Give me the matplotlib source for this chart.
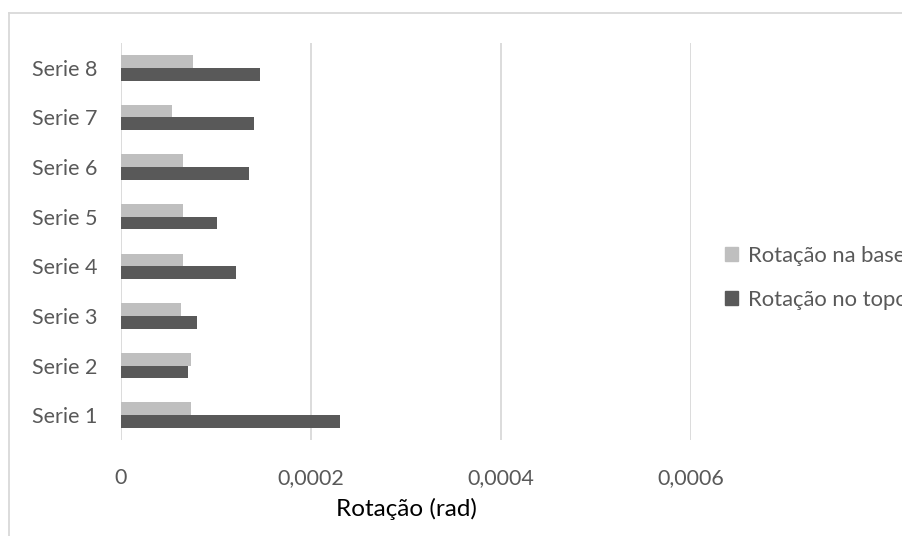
import matplotlib
matplotlib.use('Agg')
import matplotlib.pyplot as plt
import numpy as np
from matplotlib.lines import Line2D
from matplotlib.patches import Patch

# dados
series = ['Serie 1', 'Serie 2', 'Serie 3', 'Serie 4', 'Serie 5', 'Serie 6', 'Serie 7', 'Serie 8']
rot_base = [7.36e-5, 7.36e-5, 6.34e-5, 6.52e-5, 6.52e-5, 6.52e-5, 5.32e-5, 7.53e-5]
rot_topo = [2.307e-4, 7.0e-5, 8.03e-5, 1.208e-4, 1.007e-4, 1.345e-4, 1.395e-4, 1.461e-4]
xticks = [0, 0.0002, 0.0004, 0.0006]
xtick_labels = ['0', '0,0002', '0,0004', '0,0006']

plt.rcParams['font.family'] = ['Lato', 'DejaVu Sans']

fig = plt.figure(figsize=(9.02, 5.36), dpi=100)
ax = fig.add_axes([121/902, 1-440/536, 570/902, 397/536])

y = np.arange(len(series))
h = 0.256
ax.barh(y + h/2, rot_base, height=h, color='#BFBFBF', zorder=3, label='Rotação na base')
ax.barh(y - h/2, rot_topo, height=h, color='#595959', zorder=3, label='Rotação no topo')

ax.set_xlim(0, 0.0006)
ax.set_ylim(-0.5, len(series) - 0.5)
ax.set_xticks(xticks)
ax.set_xticklabels(xtick_labels)
ax.set_yticks(y)
ax.set_yticklabels(series)
ax.grid(axis='x', color='#D9D9D9', linewidth=1.3, zorder=0)
for s in ax.spines.values():
    s.set_visible(False)
ax.tick_params(axis='both', length=0, labelsize=15.5, labelcolor='#595959')
ax.tick_params(axis='x', pad=20)
ax.tick_params(axis='y', pad=17)
ax.set_xlabel('Rotação (rad)', fontsize=17.5, color='black', labelpad=7)

# moldura do grafico (so topo e esquerda visiveis)
fig.add_artist(Line2D([9/902, 9/902], [0, 1-13/536], transform=fig.transFigure, color='#D9D9D9', lw=1.3))
fig.add_artist(Line2D([9/902, 1], [1-13/536, 1-13/536], transform=fig.transFigure, color='#D9D9D9', lw=1.3))

# legenda cortada na borda direita, como no original
handles = [Patch(color='#BFBFBF'), Patch(color='#595959')]
fig.legend(handles, ['Rotação na base', 'Rotação no topo'], loc='center left',
           bbox_to_anchor=(725/902, 1-278/536), frameon=False, fontsize=15.8,
           handlelength=0.58, handleheight=0.58, handletextpad=0.45, labelspacing=1.1,
           borderpad=0, borderaxespad=0, labelcolor='#595959')

fig.savefig('out.png', dpi=100)
